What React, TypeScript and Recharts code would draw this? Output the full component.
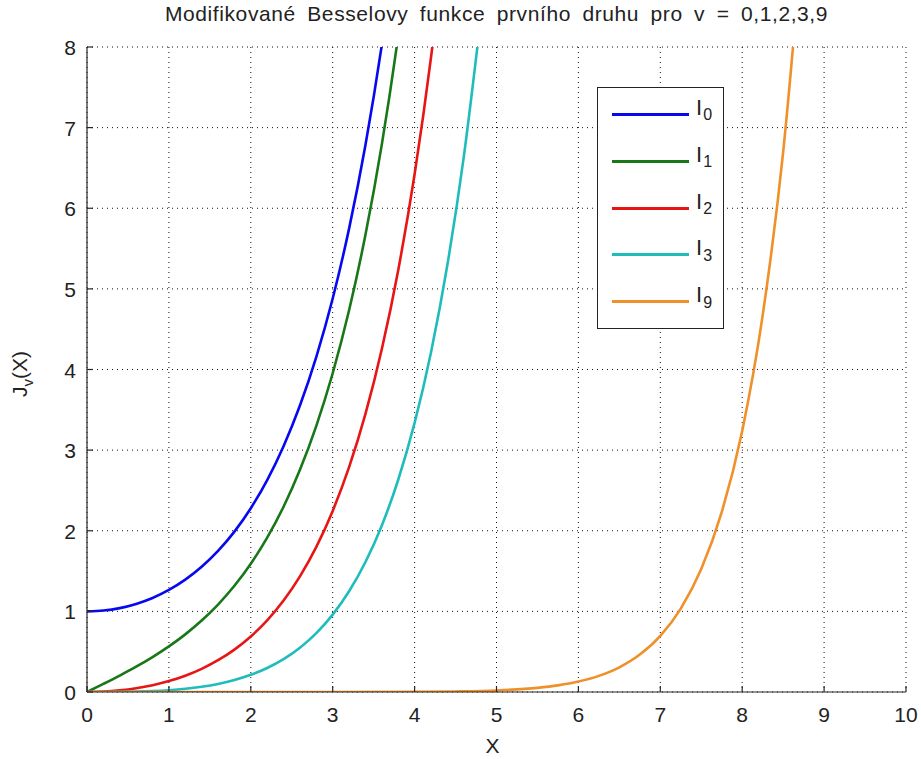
import { CartesianGrid, Line, LineChart, XAxis, YAxis } from "recharts";

const FONT = "'Liberation Sans', Arial, sans-serif";

const COLORS = {
  i0: "#0808f0",
  i1: "#187818",
  i2: "#e81515",
  i3: "#20bcbc",
  i9: "#f0902a",
  axis: "#262626",
  grid: "#111111",
};

// x positions shared by I0..I3 (step 0.2)
const xSmall = [
  0, 0.2, 0.4, 0.6, 0.8, 1.0, 1.2, 1.4, 1.6, 1.8, 2.0, 2.2, 2.4, 2.6, 2.8,
  3.0, 3.2, 3.4, 3.6, 3.8, 4.0, 4.2, 4.4, 4.6, 4.8,
];

const i0 = [
  1, 1.01, 1.0404, 1.092, 1.1665, 1.2661, 1.3937, 1.5534, 1.75, 1.9896,
  2.2796, 2.6291, 3.0493, 3.5533, 4.1573, 4.8808, 5.7472, 6.7848, 8.0277,
  9.5169,
];
const i1 = [
  0, 0.1005, 0.204, 0.3137, 0.4329, 0.5652, 0.7147, 0.8861, 1.0848, 1.3172,
  1.5906, 1.9141, 2.2981, 2.7554, 3.3011, 3.9534, 4.7343, 5.6701, 6.7927,
  8.1404, 9.7595,
];
const i2 = [
  0, 0.005, 0.0203, 0.0464, 0.0843, 0.1357, 0.2025, 0.2875, 0.394, 0.526,
  0.6889, 0.889, 1.1342, 1.4338, 1.7994, 2.2452, 2.7883, 3.4494, 4.254,
  5.2324, 6.4222, 7.868, 9.625,
];
const i3 = [
  0, 0.0002, 0.0013, 0.0046, 0.0111, 0.0222, 0.0394, 0.0646, 0.0998, 0.1483,
  0.2128, 0.2977, 0.4078, 0.5496, 0.7305, 0.9598, 1.2489, 1.612, 2.066,
  2.6326, 3.3373, 4.212, 5.296, 6.634, 8.29,
];

const x9 = [
  0, 1, 2, 3, 4, 4.5, 5, 5.5, 5.75, 6, 6.25, 6.5, 6.75, 7, 7.25, 7.5, 7.75, 8,
  8.25, 8.5, 8.75,
];
const i9 = [
  0, 0, 0.000003, 0.00013, 0.0021, 0.0067, 0.0193, 0.0516, 0.0821, 0.129,
  0.2, 0.3063, 0.464, 0.696, 1.0345, 1.5248, 2.2302, 3.2384, 4.6714, 6.6971,
  9.547,
];

const xTicks = [0, 1, 2, 3, 4, 5, 6, 7, 8, 9, 10];
const yTicks = [0, 1, 2, 3, 4, 5, 6, 7, 8];

const SERIES = [
  { key: "I0", sub: "0", xs: xSmall, ys: i0, color: COLORS.i0 },
  { key: "I1", sub: "1", xs: xSmall, ys: i1, color: COLORS.i1 },
  { key: "I2", sub: "2", xs: xSmall, ys: i2, color: COLORS.i2 },
  { key: "I3", sub: "3", xs: xSmall, ys: i3, color: COLORS.i3 },
  { key: "I9", sub: "9", xs: x9, ys: i9, color: COLORS.i9 },
];

const W = 921;
const H = 759;
const PLOT = { left: 87, top: 47, right: 906, bottom: 692 };

function XTick({ x, y, payload }: any) {
  return (
    <g>
      <line x1={x} y1={y} x2={x} y2={y - 6} stroke={COLORS.axis} strokeWidth={1.2} />
      <text
        x={x}
        y={y + 30}
        textAnchor="middle"
        fontFamily={FONT}
        fontSize={21}
        fill="#222"
      >
        {payload.value}
      </text>
    </g>
  );
}

function YTick({ x, y, payload }: any) {
  return (
    <g>
      <line x1={x} y1={y} x2={x + 6} y2={y} stroke={COLORS.axis} strokeWidth={1.2} />
      <text
        x={x - 11}
        y={y + 8}
        textAnchor="end"
        fontFamily={FONT}
        fontSize={21}
        fill="#222"
      >
        {payload.value}
      </text>
    </g>
  );
}

export default function App() {
  const lines = SERIES.map((s) => ({
    ...s,
    data: s.ys.map((v, i) => ({ x: s.xs[i], y: v })),
  }));

  return (
    <div
      style={{
        position: "absolute",
        left: 0,
        top: 0,
        width: W,
        height: H,
        background: "#fff",
        fontFamily: FONT,
      }}
    >
      <div
        style={{
          position: "absolute",
          left: 0,
          width: W,
          top: 2,
          textAlign: "center",
          fontSize: 21,
          letterSpacing: 0.6,
          wordSpacing: 5,
          color: "#222",
          paddingLeft: 72,
          boxSizing: "border-box",
        }}
      >
        Modifikované Besselovy funkce prvního druhu pro v = 0,1,2,3,9
      </div>

      <LineChart
        width={W}
        height={H}
        margin={{
          top: PLOT.top,
          right: W - PLOT.right,
          bottom: 37,
          left: PLOT.left - 40,
        }}
      >
        <CartesianGrid
          stroke={COLORS.grid}
          strokeDasharray="1 4"
          horizontalValues={yTicks}
          verticalValues={xTicks}
        />
        <XAxis
          type="number"
          dataKey="x"
          domain={[0, 10]}
          ticks={xTicks}
          allowDataOverflow
          height={30}
          tickSize={0}
          tickMargin={0}
          tick={<XTick />}
          stroke={COLORS.axis}
          strokeWidth={1.2}
        />
        <YAxis
          type="number"
          dataKey="y"
          domain={[0, 8]}
          ticks={yTicks}
          allowDataOverflow
          width={40}
          tickSize={0}
          tickMargin={0}
          tick={<YTick />}
          stroke={COLORS.axis}
          strokeWidth={1.2}
        />
        {lines.map((s) => (
          <Line
            key={s.key}
            data={s.data}
            dataKey="y"
            type="monotone"
            stroke={s.color}
            strokeWidth={2.6}
            dot={false}
            activeDot={false}
            isAnimationActive={false}
          />
        ))}
      </LineChart>

      <div
        style={{
          position: "absolute",
          left: 0,
          width: W,
          top: 734,
          paddingLeft: 64,
          boxSizing: "border-box",
          textAlign: "center",
          fontSize: 21,
          color: "#222",
        }}
      >
        X
      </div>

      <div
        style={{
          position: "absolute",
          left: 22,
          top: 374,
          transform: "translate(-50%, -50%) rotate(-90deg)",
          fontSize: 21,
          color: "#222",
          whiteSpace: "nowrap",
        }}
      >
        J<sub style={{ fontSize: 15 }}>v</sub>(X)
      </div>

      <div
        style={{
          position: "absolute",
          left: 597,
          top: 87,
          width: 125,
          height: 240,
          border: "1.5px solid #222",
          background: "#fff",
        }}
      >
        {SERIES.map((s, i) => (
          <div
            key={s.key}
            style={{
              position: "absolute",
              left: 0,
              top: 26 + i * 46.8 - 12,
              height: 24,
              width: 125,
            }}
          >
            <div
              style={{
                position: "absolute",
                left: 14,
                top: 11,
                width: 77,
                height: 3,
                background: s.color,
              }}
            />
            <div
              style={{
                position: "absolute",
                left: 98,
                top: -7,
                fontSize: 22,
                color: "#222",
                whiteSpace: "nowrap",
              }}
            >
              I<sub style={{ fontSize: 16, marginLeft: 1 }}>{s.sub}</sub>
            </div>
          </div>
        ))}
      </div>
    </div>
  );
}
